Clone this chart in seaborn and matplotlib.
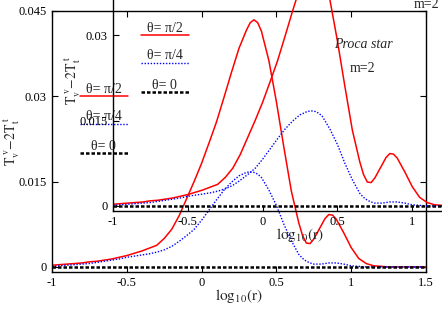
import matplotlib
matplotlib.use("Agg")
import matplotlib.pyplot as plt
import seaborn as sns
import pandas as pd

# datos (log10(r) y T_v^v - 2T_t^t)
log_r = [-1.00, -0.95, -0.90, -0.85, -0.80, -0.75, -0.70, -0.65, -0.60, -0.55,
         -0.50, -0.45, -0.40, -0.35, -0.30, -0.25, -0.20, -0.15, -0.10, -0.05,
         0.00, 0.05, 0.10, 0.15, 0.20, 0.25, 0.30, 0.325, 0.35, 0.375, 0.40, 0.45,
         0.50, 0.55, 0.60, 0.65, 0.675, 0.70, 0.725, 0.75, 0.80, 0.825, 0.85, 0.875,
         0.90, 0.95, 1.00, 1.05, 1.10, 1.15, 1.20, 1.25, 1.30, 1.35, 1.40, 1.45, 1.50]

t_pi2 = [0.0003, 0.0004, 0.0005, 0.0006, 0.0007, 0.0009, 0.0010, 0.0012, 0.0014, 0.0017,
         0.0020, 0.0024, 0.0028, 0.0033, 0.0038, 0.0050, 0.0066, 0.0090, 0.0120, 0.0150,
         0.0182, 0.0218, 0.0255, 0.0298, 0.0342, 0.0384, 0.0416, 0.0429, 0.0434, 0.0429, 0.0414, 0.0362,
         0.0290, 0.0210, 0.0133, 0.0077, 0.0055, 0.0042, 0.0041, 0.0049, 0.0073, 0.0085, 0.0092, 0.0091,
         0.0084, 0.0060, 0.0034, 0.0015, 0.0006, 0.0002, 0.0001, 0.0, 0.0, 0.0, 0.0, 0.0, 0.0]

t_pi4 = [0.0001, 0.0002, 0.0003, 0.0004, 0.0005, 0.0006, 0.0008, 0.0010, 0.0012, 0.0014,
         0.0017, 0.0019, 0.0021, 0.0023, 0.0026, 0.0030, 0.0036, 0.0045, 0.0055, 0.0066,
         0.0082, 0.0100, 0.0118, 0.0135, 0.0149, 0.0160, 0.0166, 0.0167, 0.0166, 0.0163, 0.0157, 0.0135,
         0.0108, 0.0075, 0.0046, 0.0022, 0.0015, 0.0010, 0.0007, 0.0005, 0.0005, 0.0006, 0.0007, 0.0007,
         0.0007, 0.0005, 0.0002, 0.0001, 0.0, 0.0, 0.0, 0.0, 0.0, 0.0, 0.0, 0.0, 0.0]

t_0 = [0.0] * len(log_r)

x_ticks = [-1, -0.5, 0, 0.5, 1, 1.5]
x_labels = ["-1", "-0.5", "0", "0.5", "1", "1.5"]
y_ticks = [0, 0.015, 0.03, 0.045]
y_labels = ["0", "0.015", "0.03", "0.045"]

df = pd.DataFrame({"log_r": log_r, "pi2": t_pi2, "pi4": t_pi4, "zero": t_0})

sns.set_theme(style="ticks")
plt.rcParams["font.family"] = ["Liberation Serif", "DejaVu Serif"]
plt.rcParams["mathtext.fontset"] = "stix"
plt.rcParams["axes.unicode_minus"] = False

series = [
    ("pi2", "θ= π/2", dict(color="#ff0000", linestyle="-", linewidth=1.1)),
    ("pi4", "θ= π/4", dict(color="#0000ff", linestyle=(0, (1, 1.2)), linewidth=1.0)),
    ("zero", "θ= 0", dict(color="black", linestyle=(0, (1.4, 0.8)), linewidth=1.8)),
]

fig = plt.figure(figsize=(4.42, 3.09), dpi=100)
W, H = 374 / 442, 260.8 / 309
ax = fig.add_axes([52 / 442, 37.5 / 309, W, H])
axin = fig.add_axes([113 / 442, 98.5 / 309, W, H])
axin.set_facecolor("none")


def dibujar(a):
    for col, lab, st in series:
        sns.lineplot(data=df, x="log_r", y=col, ax=a, errorbar=None, **st)
    a.set_xlim(-1, 1.5)
    a.set_ylim(-0.0008, 0.045)
    a.set_xticks(x_ticks)
    a.set_xticklabels(x_labels)
    a.set_yticks(y_ticks)
    a.set_yticklabels(y_labels)
    a.tick_params(direction="in", top=True, right=True, length=4, width=0.8,
                  labelsize=9, pad=4, colors="black")
    for s in a.spines.values():
        s.set_linewidth(1.0)
        s.set_color("black")
    a.set_xlabel(r"$\mathrm{log_{10}(r)}$", fontsize=11)
    a.set_ylabel(r"$\mathrm{T_v^{\ v}\!-\!2T_t^{\ t}}$", fontsize=10)
    a.xaxis.set_label_coords(0.5, -0.058)
    a.yaxis.set_label_coords(-0.08, 0.5)
    # leyenda: texto encima de la muestra de linea
    ys = [(0.684, 0.673), (0.580, 0.566), (0.466, 0.454)]
    for (col, lab, st), (yt, yl) in zip(series, ys):
        a.text(0.138, yt, lab, transform=a.transAxes, ha="center", va="baseline",
               fontsize=10)
        a.plot([0.075, 0.203], [yl, yl], transform=a.transAxes, clip_on=False, **st)


dibujar(ax)
dibujar(axin)

fig.text(363 / 442, 1 - 45 / 309, "Proca star", style="italic", ha="center",
         va="center", fontsize=10)
fig.text(363 / 442, 1 - 69 / 309, "m=2", ha="center", va="center", fontsize=10)
fig.text(427 / 442, 1 - 5 / 309, "m=2", ha="center", va="center", fontsize=10)

fig.savefig("out.png", dpi=100)
